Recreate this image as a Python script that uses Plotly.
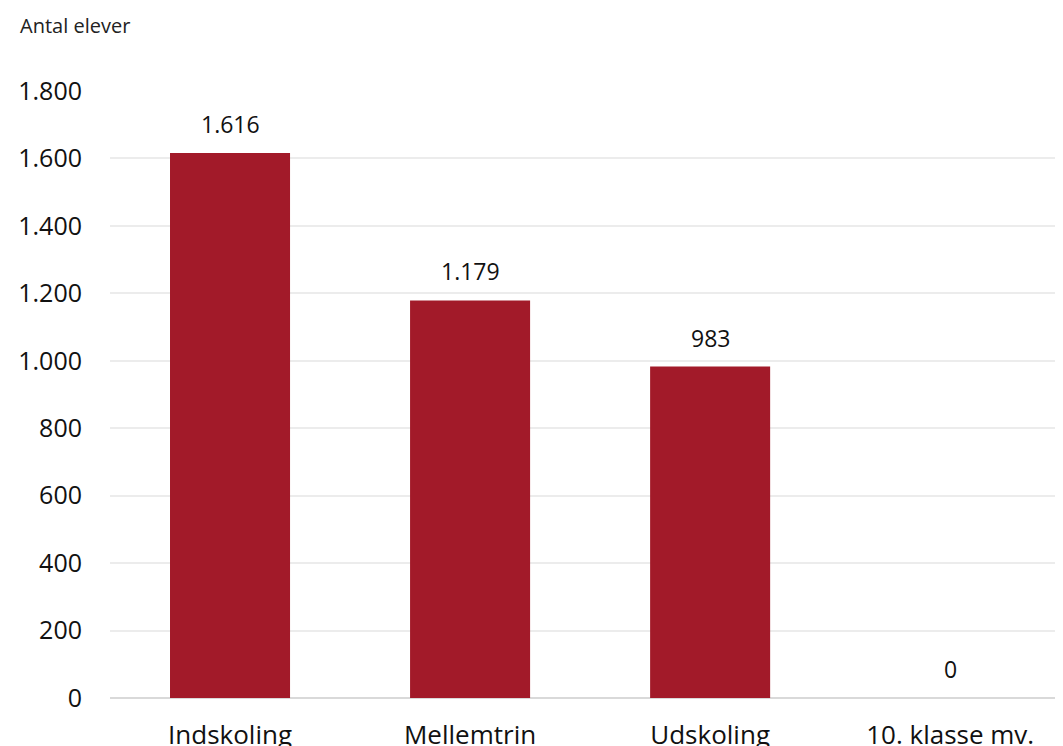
import plotly.graph_objects as go

categories = ["Indskoling", "Mellemtrin", "Udskoling", "10. klasse mv."]
values = [1616, 1179, 983, 0]
y_ticks = [0, 200, 400, 600, 800, 1000, 1200, 1400, 1600, 1800]
y_title = "Antal elever"

bar_color = "#A21A29"
font_family = "'Open Sans', sans-serif"

fig = go.Figure(
    go.Bar(
        x=categories,
        y=values,
        width=0.5,
        marker=dict(color=bar_color, line=dict(width=0)),
        hoverinfo="x+y",
    )
)

annotations = [
    dict(
        text=f"{v:,}".replace(",", "."),
        x=c, y=v, xref="x", yref="y",
        xanchor="center", yanchor="bottom",
        yshift=11,
        showarrow=False,
        font=dict(size=23, color="#111111", family=font_family),
    )
    for c, v in zip(categories, values)
]
annotations.append(
    dict(
        text=y_title,
        xref="paper", yref="paper",
        x=0, y=1,
        xanchor="left", yanchor="middle",
        xshift=-92, yshift=66,
        showarrow=False,
        font=dict(size=20, color="#222222", family=font_family),
    )
)

fig.update_layout(
    width=1063,
    height=746,
    margin=dict(l=102, r=8, t=83, b=56, autoexpand=False),
    paper_bgcolor="white",
    plot_bgcolor="white",
    separators=",.",
    showlegend=False,
    font=dict(family=font_family, color="#111111"),
    xaxis=dict(
        range=[-0.5, 3.47],
        tickfont=dict(size=26, color="#111111"),
        showgrid=False,
        showline=False,
        ticks="outside",
        ticklen=14,
        tickcolor="rgba(0,0,0,0)",
        automargin=False,
    ),
    yaxis=dict(
        range=[0, 1800],
        tickvals=y_ticks,
        tickformat=",d",
        tickfont=dict(size=25, color="#111111"),
        showgrid=True,
        gridcolor="#ececec",
        gridwidth=1.5,
        zeroline=True,
        zerolinecolor="#d9d9d9",
        zerolinewidth=2,
        ticks="outside",
        ticklen=22,
        tickcolor="rgba(0,0,0,0)",
        automargin=False,
    ),
    annotations=annotations,
)

fig.write_html("out.html")
